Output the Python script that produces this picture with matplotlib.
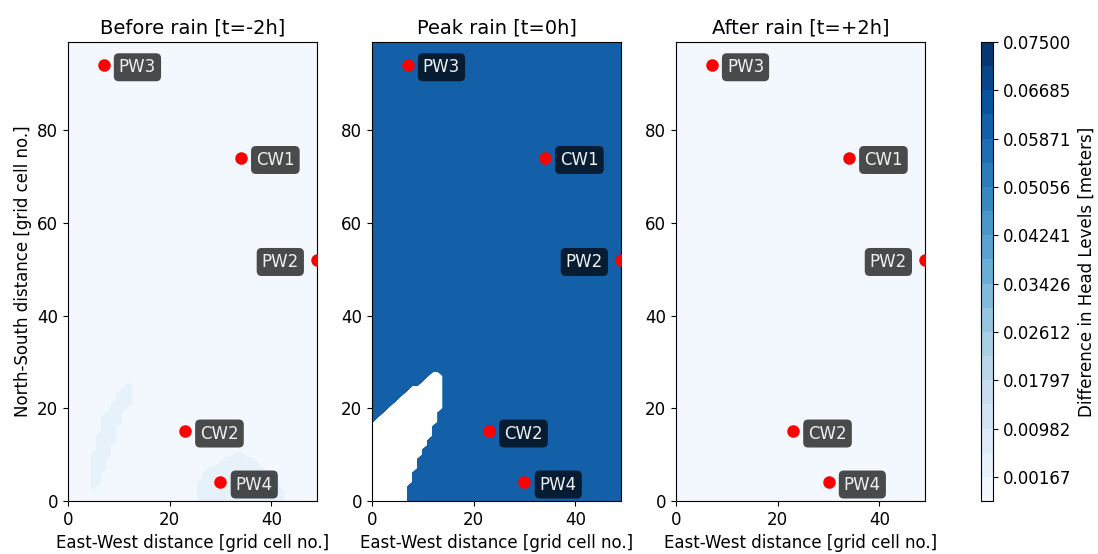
import numpy as np
import matplotlib
matplotlib.use("Agg")
import matplotlib.pyplot as plt

# grid of the model (cells)
n_cols = 50
n_rows = 100

# colour levels of the head difference
level_min = -0.00240
level_max = 0.07500
n_levels = 20

panel_titles = ["Before rain [t=-2h]", "Peak rain [t=0h]", "After rain [t=+2h]"]

# wells: name, x, y, label side
well_names = ["PW3", "CW1", "PW2", "CW2", "PW4"]
well_x = [7, 34, 49, 23, 30]
well_y = [94, 74, 52, 15, 4]
well_side = ["right", "right", "left", "right", "right"]

# before rain: flat field with two slightly raised patches
before_base = 0.0
before_patch = 0.003
# rows (y, x_start, x_end) of the raised patches
before_patch_rows = [
    (3, 5, 5), (4, 5, 6), (5, 5, 6), (6, 5, 6), (7, 5, 7), (8, 5, 7),
    (9, 5, 7), (10, 5, 8), (11, 6, 8), (12, 6, 8), (13, 6, 9), (14, 6, 9),
    (15, 7, 9), (16, 7, 9), (17, 7, 10), (18, 7, 10), (19, 8, 10),
    (20, 9, 11), (21, 9, 12), (22, 10, 12), (23, 10, 12), (24, 11, 12), (25, 12, 12),
    (0, 26, 42), (1, 26, 42), (2, 26, 42), (3, 26, 41), (4, 26, 41), (5, 27, 40),
    (6, 27, 39), (7, 28, 38), (8, 30, 37), (9, 31, 36), (10, 33, 34),
    (14, 23, 23),
]

# peak rain: nearly uniform rise, dry corner in the south-west
peak_base = 0.061
peak_dry = -0.5
peak_low_cell = (93, 7, 0.055)
# rows (y, x_start, x_end) below the lowest level
peak_dry_rows = [
    (0, 0, 6), (1, 0, 6), (2, 0, 6), (3, 0, 6), (4, 0, 7), (5, 0, 7),
    (6, 0, 7), (7, 0, 8), (8, 0, 8), (9, 0, 8), (10, 0, 9), (11, 0, 9),
    (12, 0, 10), (13, 0, 10), (14, 0, 11), (15, 0, 11), (16, 0, 11),
    (17, 1, 12), (18, 2, 12), (19, 3, 12), (20, 4, 13), (21, 5, 13),
    (22, 6, 13), (23, 7, 13), (24, 8, 13), (25, 10, 13), (26, 11, 13), (27, 12, 13),
]

# after rain: back to flat with two tiny bumps
after_base = 0.0
after_patch = 0.003
after_patch_rows = [(14, 23, 23), (3, 30, 30)]


def build_field(base, rows, value):
    field = np.full((n_rows, n_cols), base)
    for y, x0, x1 in rows:
        field[y, x0:x1 + 1] = value
    return field


plt.rcParams["font.size"] = 12

before = build_field(before_base, before_patch_rows, before_patch)
peak = build_field(peak_base, peak_dry_rows, peak_dry)
peak[peak_low_cell[0], peak_low_cell[1]] = peak_low_cell[2]
after = build_field(after_base, after_patch_rows, after_patch)

levels = np.linspace(level_min, level_max, n_levels)
xs = np.arange(n_cols)
ys = np.arange(n_rows)

fig = plt.figure(figsize=(10.98, 5.54), dpi=100)
lefts = [0.0619, 0.3388, 0.6157]
axes = [fig.add_axes([left, 0.0957, 0.2268, 0.8285]) for left in lefts]
cax = fig.add_axes([0.8935, 0.0957, 0.0112, 0.8285])

cs = None
for ax, field, title in zip(axes, [before, peak, after], panel_titles):
    cs = ax.contourf(xs, ys, field, levels=levels, cmap="Blues")
    ax.scatter(well_x, well_y, s=64, color="red", zorder=3)
    for name, x, y, side in zip(well_names, well_x, well_y, well_side):
        dx = 11 if side == "right" else -13
        ax.annotate(
            name, (x, y), xytext=(dx, -1.5), textcoords="offset points",
            ha="left" if side == "right" else "right", va="center",
            fontsize=12, color="#f0f0f0", zorder=4,
            bbox=dict(boxstyle="round,pad=0.3", facecolor="black", edgecolor="none", alpha=0.7),
        )
    ax.set_xlim(0, n_cols - 1)
    ax.set_ylim(0, n_rows - 1)
    ax.set_xticks([0, 20, 40])
    ax.set_yticks([0, 20, 40, 60, 80])
    ax.set_title(title, fontsize=14)
    ax.set_xlabel("East-West distance [grid cell no.]")

axes[0].set_ylabel("North-South distance [grid cell no.]")

cbar = fig.colorbar(cs, cax=cax, ticks=levels[1::2], format="%.5f")
cbar.set_label("Difference in Head Levels [meters]")

fig.savefig("out.png", dpi=100)
